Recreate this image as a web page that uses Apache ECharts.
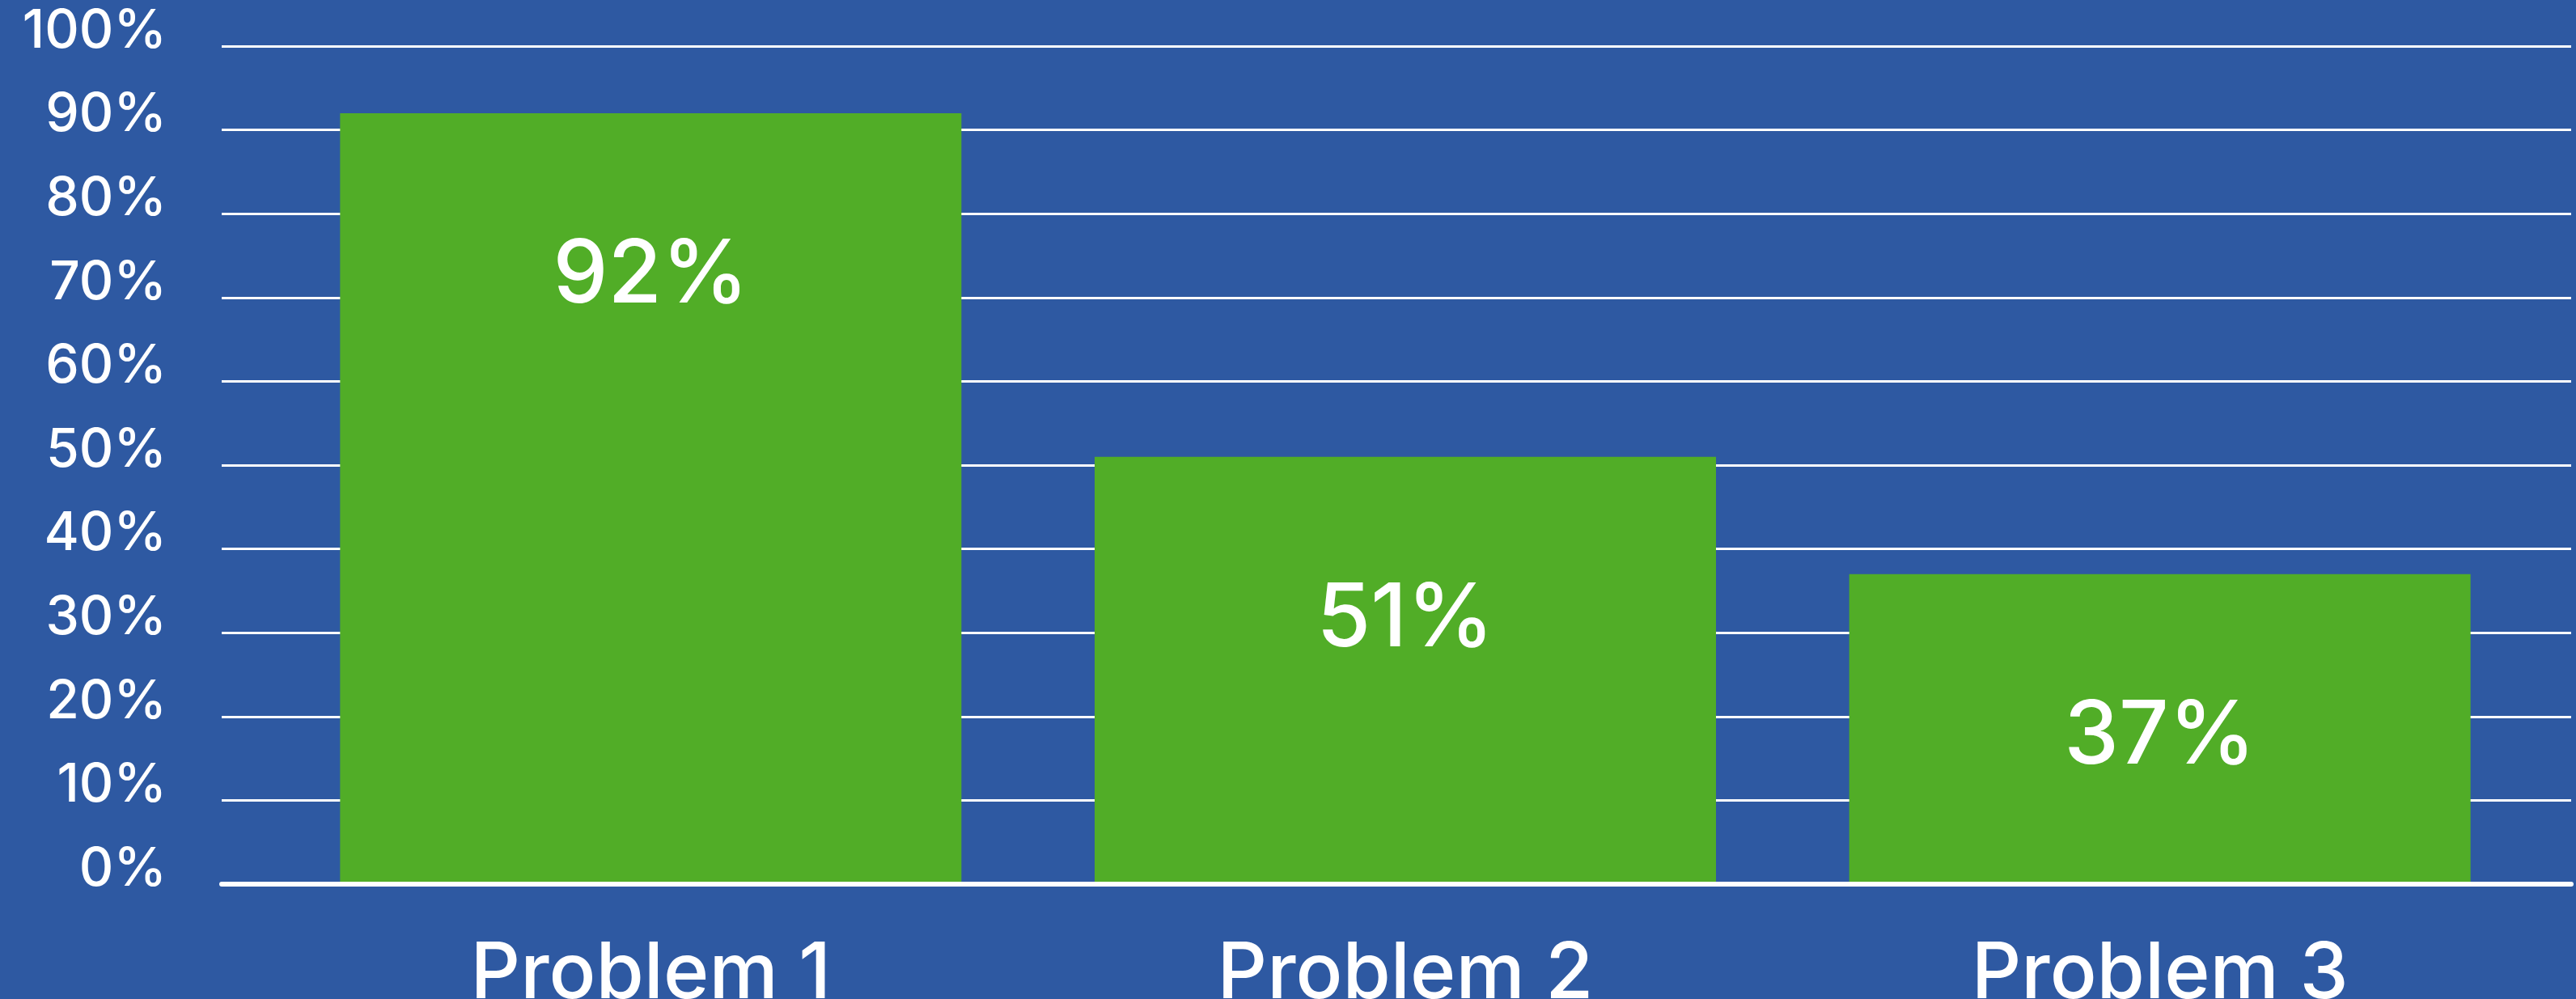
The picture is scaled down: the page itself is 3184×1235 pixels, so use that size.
<!DOCTYPE html>
<html>
<head>
<meta charset="utf-8">
<script src="https://cdn.jsdelivr.net/npm/echarts@6/dist/echarts.min.js"></script>
<style>
html,body{margin:0;padding:0;background:#2E59A2;}
#chart{width:3184px;height:1235px;}
</style>
</head>
<body>
<div id="chart"></div>
<script>
const categories = ['Problem 1', 'Problem 2', 'Problem 3'];
const values = [92, 51, 37];
const yMin = 0, yMax = 100, yStep = 10;

const FONT = 'Inter, "Open Sans", sans-serif';
const chart = echarts.init(document.getElementById('chart'));
chart.setOption({
  backgroundColor: '#2E59A2',
  animation: false,
  grid: [
    {left: 274, right: 6, top: 57, bottom: 142, containLabel: false, outerBoundsMode: 'none'},
    {left: 338, right: 48, top: 57, bottom: 142, containLabel: false, outerBoundsMode: 'none'}
  ],
  xAxis: [
    {gridIndex: 0, type: 'value', min: 0, max: 1, show: true, z: 10,
     axisLine: {show: true, onZero: false, lineStyle: {color: '#FFFFFF', width: 6}},
     axisTick: {show: false}, axisLabel: {show: false}, splitLine: {show: false}},
    {gridIndex: 1, type: 'category', data: categories,
     axisLine: {show: false}, axisTick: {show: false},
     axisLabel: {color: '#FFFFFF', fontSize: 96, fontFamily: FONT, fontWeight: 500, margin: 64}}
  ],
  yAxis: [
    {gridIndex: 0, type: 'value', min: yMin, max: yMax, interval: yStep,
     axisLine: {show: false}, axisTick: {show: false},
     axisLabel: {color: '#FFFFFF', fontSize: 66, fontFamily: FONT, fontWeight: 500, margin: 68,
                 verticalAlign: 'bottom', lineHeight: 36, formatter: '{value}%'},
     splitLine: {show: true, lineStyle: {color: '#FFFFFF', width: 3}}},
    {gridIndex: 1, type: 'value', min: yMin, max: yMax, interval: yStep, show: false,
     splitLine: {show: false}}
  ],
  series: [{
    type: 'bar',
    xAxisIndex: 1, yAxisIndex: 1,
    data: values,
    barWidth: 768,
    itemStyle: {color: '#51AD27'},
    label: {show: true, position: 'insideTop', distance: 148, color: '#FFFFFF',
            fontSize: 108, fontFamily: FONT, fontWeight: 500, formatter: '{c}%'}
  }]
});
</script>
</body>
</html>
